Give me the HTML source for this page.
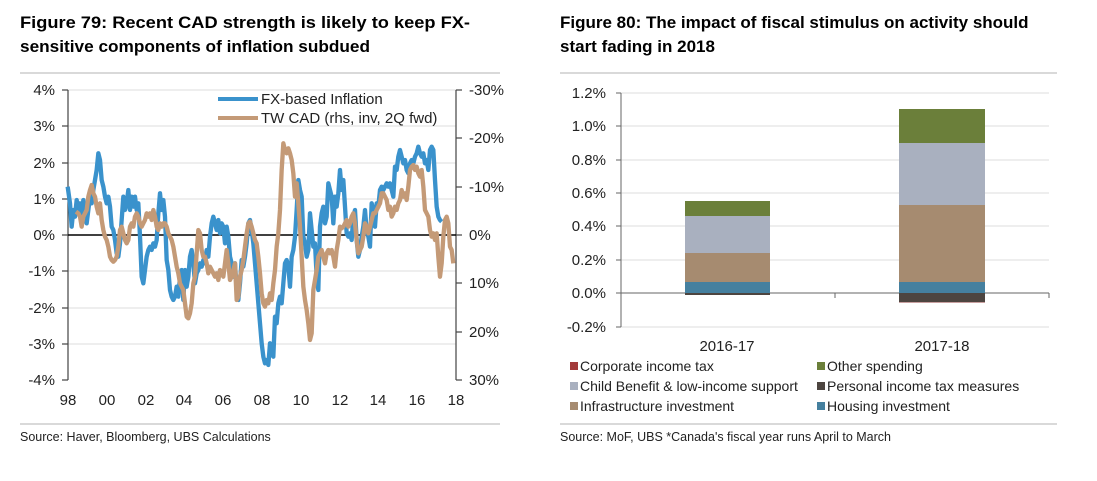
<!DOCTYPE html>
<html><head><meta charset="utf-8"><style>
html,body{margin:0;padding:0;background:#fff;width:1097px;height:481px;overflow:hidden}
svg{display:block;font-family:"Liberation Sans",sans-serif}
</style></head><body>
<svg width="1097" height="481" viewBox="0 0 1097 481">
<g font-weight="bold" font-size="17" fill="#000">
<text x="20" y="28" textLength="450" lengthAdjust="spacingAndGlyphs">Figure 79: Recent CAD strength is likely to keep FX-</text>
<text x="20" y="52" textLength="350" lengthAdjust="spacingAndGlyphs">sensitive components of inflation subdued</text>
<text x="560" y="28">Figure 80: The impact of fiscal stimulus on activity should</text>
<text x="560" y="52">start fading in 2018</text>
</g>
<g stroke="#d9d9d9" stroke-width="2">
<line x1="20" y1="73" x2="500" y2="73"/><line x1="560" y1="73" x2="1057" y2="73"/>
<line x1="20" y1="424" x2="500" y2="424"/><line x1="560" y1="424" x2="1057" y2="424"/>
</g>
<g font-size="12.5" fill="#222">
<text x="20" y="441">Source: Haver, Bloomberg, UBS Calculations</text>
<text x="560" y="441">Source: MoF, UBS *Canada's fiscal year runs April to March</text>
</g>
<!-- left chart -->
<g stroke="#dcdcdc" stroke-width="1">
<line x1="68" y1="90" x2="456" y2="90"/><line x1="68" y1="126" x2="456" y2="126"/><line x1="68" y1="163" x2="456" y2="163"/><line x1="68" y1="199" x2="456" y2="199"/><line x1="68" y1="271" x2="456" y2="271"/><line x1="68" y1="308" x2="456" y2="308"/><line x1="68" y1="344" x2="456" y2="344"/>
</g>
<g stroke="#444" stroke-width="1.2">
<line x1="68" y1="90" x2="68" y2="380"/><line x1="456" y1="90" x2="456" y2="380"/>
<line x1="62" y1="380" x2="68" y2="380"/><line x1="62" y1="344" x2="68" y2="344"/><line x1="62" y1="308" x2="68" y2="308"/><line x1="62" y1="271" x2="68" y2="271"/><line x1="62" y1="235" x2="68" y2="235"/><line x1="62" y1="199" x2="68" y2="199"/><line x1="62" y1="163" x2="68" y2="163"/><line x1="62" y1="126" x2="68" y2="126"/><line x1="62" y1="90" x2="68" y2="90"/>
<line x1="456" y1="90" x2="462" y2="90"/><line x1="456" y1="138" x2="462" y2="138"/><line x1="456" y1="187" x2="462" y2="187"/><line x1="456" y1="235" x2="462" y2="235"/><line x1="456" y1="283" x2="462" y2="283"/><line x1="456" y1="332" x2="462" y2="332"/><line x1="456" y1="380" x2="462" y2="380"/>
</g>
<line x1="68" y1="235" x2="456" y2="235" stroke="#000" stroke-width="1.5"/>
<g font-size="15" fill="#222" text-anchor="end">
<text x="55" y="95">4%</text><text x="55" y="131">3%</text><text x="55" y="168">2%</text><text x="55" y="204">1%</text><text x="55" y="240">0%</text><text x="55" y="276">-1%</text><text x="55" y="313">-2%</text><text x="55" y="349">-3%</text><text x="55" y="385">-4%</text>
</g>
<g font-size="15" fill="#222">
<text x="469" y="95">-30%</text><text x="469" y="143">-20%</text><text x="469" y="192">-10%</text><text x="469" y="240">0%</text><text x="469" y="288">10%</text><text x="469" y="337">20%</text><text x="469" y="385">30%</text>
</g>
<g font-size="15" fill="#222" text-anchor="middle">
<text x="68" y="405">98</text><text x="107" y="405">00</text><text x="146" y="405">02</text><text x="184" y="405">04</text><text x="223" y="405">06</text><text x="262" y="405">08</text><text x="301" y="405">10</text><text x="340" y="405">12</text><text x="378" y="405">14</text><text x="417" y="405">16</text><text x="456" y="405">18</text>
</g>
<g transform="translate(0,70) scale(0.33333)" fill="none" stroke-linejoin="round" stroke-width="13">
<polyline stroke="#3a92cc" points="203,350 210,400 215,470 220,420 225,440 230,390 235,420 240,400 245,440 250,390 255,430 260,460 265,420 270,380 275,400 280,360 285,330 290,300 295,250 300,270 305,330 310,350 315,380 320,400 325,380 330,410 335,470 340,480 345,510 350,550 355,560 360,520 365,450 370,380 375,420 380,400 385,360 390,420 395,380 400,410 405,380 410,420 415,400 420,500 425,620 430,640 435,600 440,560 445,540 450,530 455,540 460,520 465,530 470,510 475,430 480,370 485,420 490,390 495,440 500,570 505,600 510,660 515,680 520,690 525,680 530,650 535,680 540,620 545,600 550,690 555,600 560,650 565,620 570,560 575,540 580,580 585,640 590,610 595,600 600,580 605,590 610,570 615,580 620,540 625,560 630,500 635,460 640,440 645,460 650,480 655,450 660,490 665,460 670,470 675,520 680,470 685,500 690,560 695,580 700,620 705,580 710,660 715,690 720,640 725,570 730,590 735,560 740,520 745,460 750,450 755,480 760,520 765,580 770,640 775,700 780,760 785,820 790,860 795,880 800,870 805,885 810,820 815,840 820,860 825,740 830,760 835,700 840,680 845,700 850,640 855,580 860,570 865,590 870,650 875,560 880,540 885,500 890,420 895,330 900,360 905,380 910,500 915,520 920,560 925,540 930,430 935,480 940,530 945,520 950,620 955,660 960,470 965,430 970,410 975,460 980,440 985,340 990,360 995,380 1000,460 1005,380 1010,410 1015,370 1020,300 1025,360 1030,330 1035,410 1040,490 1045,500 1050,490 1055,510 1060,440 1065,420 1070,510 1075,560 1080,540 1085,500 1090,470 1095,420 1100,480 1105,500 1110,530 1115,400 1120,420 1125,470 1130,400 1135,410 1140,360 1145,350 1150,360 1155,350 1160,340 1165,350 1170,340 1175,360 1180,380 1185,290 1190,300 1195,260 1200,240 1205,260 1210,280 1215,270 1220,300 1225,310 1230,280 1235,270 1240,280 1245,260 1250,250 1255,230 1260,250 1265,260 1270,250 1275,280 1280,270 1285,300 1290,240 1295,230 1300,240 1305,330 1310,410 1315,440 1320,450 1325,455"/>
<polyline stroke="#c49a77" points="228,425 235,430 240,440 245,470 250,440 255,430 260,420 265,380 270,360 275,345 280,370 285,380 290,410 295,430 300,400 305,450 310,480 315,500 320,510 325,530 330,560 335,570 340,575 345,570 350,560 355,530 360,480 365,470 370,490 375,510 380,520 385,510 390,470 395,460 400,470 405,440 410,430 415,440 420,460 425,470 430,460 435,450 440,430 445,440 450,430 455,450 460,420 465,440 470,470 475,480 480,460 485,470 490,460 495,460 500,470 505,490 510,500 515,510 520,530 525,560 530,590 535,610 540,640 545,650 550,660 555,700 560,740 565,745 570,730 575,700 580,640 585,620 590,550 595,480 600,490 605,540 610,560 615,560 620,580 625,610 630,590 635,600 640,610 645,620 650,610 655,630 660,600 665,610 670,620 675,580 680,540 685,580 690,630 695,620 700,600 705,580 710,690 715,680 720,620 725,600 730,570 735,530 740,490 745,460 750,455 755,470 760,490 765,510 770,520 775,560 780,610 785,670 790,700 795,710 800,690 805,700 810,670 815,690 820,640 825,600 830,530 835,490 840,420 845,300 850,220 855,240 860,250 865,235 870,250 875,270 880,310 885,380 890,340 895,400 900,470 905,560 910,650 915,690 920,720 925,760 930,810 935,790 940,660 945,630 950,600 955,560 960,550 965,540 970,560 975,580 980,550 985,540 990,550 995,540 1000,560 1005,590 1010,540 1015,510 1020,470 1025,475 1030,470 1035,460 1040,450 1045,470 1050,460 1055,440 1060,430 1065,460 1070,510 1075,550 1080,540 1085,530 1090,500 1095,460 1100,470 1105,490 1110,470 1115,450 1120,430 1125,430 1130,420 1135,410 1140,400 1145,370 1150,370 1155,380 1160,390 1165,420 1170,410 1175,440 1180,430 1185,410 1190,420 1195,400 1200,390 1205,360 1210,380 1215,370 1220,390 1225,350 1230,300 1235,290 1240,285 1245,300 1250,290 1255,310 1260,320 1265,300 1270,350 1275,420 1280,430 1285,440 1290,480 1295,500 1300,490 1305,510 1310,490 1315,560 1320,620 1325,580 1330,500 1335,450 1340,440 1345,460 1350,530 1355,540 1360,580"/>
</g>
<line x1="218" y1="99" x2="258" y2="99" stroke="#3a92cc" stroke-width="4"/>
<line x1="218" y1="118" x2="258" y2="118" stroke="#c49a77" stroke-width="4"/>
<g font-size="15" fill="#222"><text x="261" y="104">FX-based Inflation</text><text x="261" y="123">TW CAD (rhs, inv, 2Q fwd)</text></g>
<!-- right chart -->
<g stroke="#dcdcdc" stroke-width="1">
<line x1="621" y1="93" x2="1049" y2="93"/><line x1="621" y1="126" x2="1049" y2="126"/><line x1="621" y1="160" x2="1049" y2="160"/><line x1="621" y1="193" x2="1049" y2="193"/><line x1="621" y1="226" x2="1049" y2="226"/><line x1="621" y1="260" x2="1049" y2="260"/><line x1="621" y1="327" x2="1049" y2="327"/>
</g>
<g stroke="#666" stroke-width="1">
<line x1="621" y1="93" x2="621" y2="327"/>
<line x1="616" y1="93" x2="621" y2="93"/><line x1="616" y1="126" x2="621" y2="126"/><line x1="616" y1="160" x2="621" y2="160"/><line x1="616" y1="193" x2="621" y2="193"/><line x1="616" y1="226" x2="621" y2="226"/><line x1="616" y1="260" x2="621" y2="260"/><line x1="616" y1="293" x2="621" y2="293"/><line x1="616" y1="327" x2="621" y2="327"/>
<line x1="621" y1="293" x2="1049" y2="293"/><line x1="835" y1="293" x2="835" y2="298"/><line x1="1049" y1="293" x2="1049" y2="298"/>
</g>
<rect x="685" y="201" width="85" height="15" fill="#6b7f3a"/>
<rect x="685" y="216" width="85" height="37" fill="#a9b0bf"/>
<rect x="685" y="253" width="85" height="29" fill="#a68b70"/>
<rect x="685" y="282" width="85" height="11" fill="#45809f"/>
<rect x="685" y="293" width="85" height="2" fill="#4d4540"/>
<rect x="899" y="109" width="86" height="34" fill="#6b7f3a"/>
<rect x="899" y="143" width="86" height="62" fill="#a9b0bf"/>
<rect x="899" y="205" width="86" height="77" fill="#a68b70"/>
<rect x="899" y="282" width="86" height="11" fill="#45809f"/>
<rect x="899" y="293" width="86" height="9" fill="#4d4540"/>
<rect x="899" y="302" width="86" height="1" fill="#c9a0a0"/>
<g font-size="15" fill="#222" text-anchor="end">
<text x="606" y="98">1.2%</text><text x="606" y="131">1.0%</text><text x="606" y="165">0.8%</text><text x="606" y="198">0.6%</text><text x="606" y="231">0.4%</text><text x="606" y="265">0.2%</text><text x="606" y="298">0.0%</text><text x="606" y="332">-0.2%</text>
</g>
<g font-size="15" fill="#222" text-anchor="middle"><text x="727" y="351">2016-17</text><text x="942" y="351">2017-18</text></g>
<rect x="570" y="362" width="8" height="8" fill="#a33a3a"/>
<rect x="570" y="382" width="8" height="8" fill="#a9b0bf"/>
<rect x="570" y="402" width="8" height="8" fill="#a68b70"/>
<rect x="817" y="362" width="8" height="8" fill="#6b7f3a"/>
<rect x="817" y="382" width="8" height="8" fill="#4d4540"/>
<rect x="817" y="402" width="8" height="8" fill="#45809f"/>
<g font-size="14" fill="#222">
<text x="580" y="371">Corporate income tax</text><text x="580" y="391">Child Benefit &amp; low-income support</text><text x="580" y="411">Infrastructure investment</text>
<text x="827" y="371">Other spending</text><text x="827" y="391">Personal income tax measures</text><text x="827" y="411">Housing investment</text>
</g>
</svg>
</body></html>
